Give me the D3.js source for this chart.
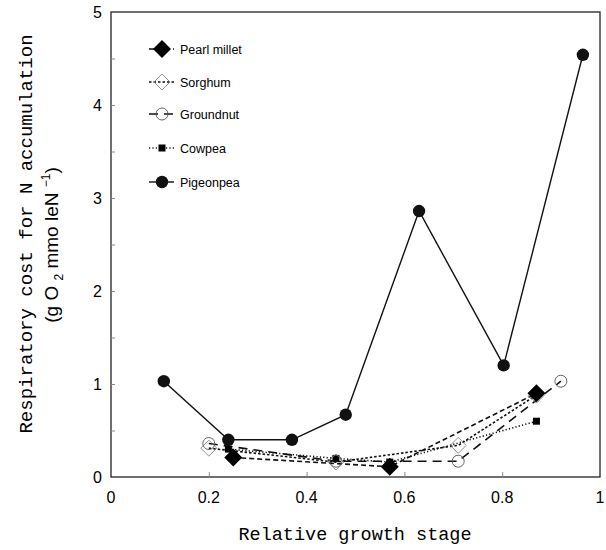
<!DOCTYPE html>
<html>
<head>
<meta charset="utf-8">
<script src="https://cdn.jsdelivr.net/npm/d3@7"></script>
<style>
  body { margin: 0; background: #fff; }
  svg { display: block; }
</style>
</head>
<body>
<svg width="606" height="550"></svg>
<script>
// data
const pearlMilletX = [0.25, 0.57, 0.87];
const pearlMilletY = [0.21, 0.11, 0.90];
const sorghumX = [0.20, 0.46, 0.71, 0.87];
const sorghumY = [0.31, 0.16, 0.34, 0.88];
const groundnutX = [0.20, 0.46, 0.71, 0.92];
const groundnutY = [0.36, 0.17, 0.17, 1.03];
const cowpeaX = [0.24, 0.46, 0.57, 0.87];
const cowpeaY = [0.30, 0.20, 0.16, 0.60];
const pigeonpeaX = [0.108, 0.24, 0.37, 0.48, 0.63, 0.803, 0.965];
const pigeonpeaY = [1.03, 0.40, 0.40, 0.67, 2.86, 1.20, 4.54];

const xTicks = [0, 0.2, 0.4, 0.6, 0.8, 1];
const yTicks = [0, 1, 2, 3, 4, 5];

const series = [
    { name: "Pearl millet", xs: pearlMilletX, ys: pearlMilletY, dash: "5,3", marker: "diamondFilled" },
    { name: "Sorghum", xs: sorghumX, ys: sorghumY, dash: "2.5,2", marker: "diamondOpen" },
    { name: "Groundnut", xs: groundnutX, ys: groundnutY, dash: "9,6", marker: "circleOpen" },
    { name: "Cowpea", xs: cowpeaX, ys: cowpeaY, dash: "1.2,2.2", marker: "square" },
    { name: "Pigeonpea", xs: pigeonpeaX, ys: pigeonpeaY, dash: null, marker: "circleFilled" }
];

const svg = d3.select("svg");
const plotLeft = 111, plotRight = 600, plotTop = 12, plotBottom = 477;

const x = d3.scaleLinear().domain([0, 1]).range([plotLeft, plotRight]);
const y = d3.scaleLinear().domain([0, 5]).range([plotBottom, plotTop]);

// frame
svg.append("rect")
    .attr("x", plotLeft).attr("y", plotTop)
    .attr("width", plotRight - plotLeft).attr("height", plotBottom - plotTop)
    .attr("fill", "none").attr("stroke", "#222").attr("stroke-width", 1.3);

// inside ticks
const xAxis = d3.axisTop(x).tickValues(xTicks.slice(1, -1)).tickSize(5).tickFormat("");
svg.append("g").attr("transform", `translate(0,${plotBottom})`).call(xAxis)
    .call(g => g.select(".domain").remove())
    .selectAll("line").attr("stroke", "#888");

const yAxis = d3.axisRight(y).tickValues(d3.range(0.5, 5, 0.5)).tickSize(4).tickFormat("");
svg.append("g").attr("transform", `translate(${plotLeft},0)`).call(yAxis)
    .call(g => g.select(".domain").remove())
    .selectAll("line").attr("stroke", "#888");

// tick labels
svg.append("g").selectAll("text").data(xTicks).join("text")
    .attr("x", d => x(d)).attr("y", 503)
    .attr("text-anchor", "middle")
    .style("font-family", "Liberation Sans, Arial, sans-serif")
    .style("font-size", "16px")
    .text(d => d3.format("")(d));

svg.append("g").selectAll("text").data(yTicks).join("text")
    .attr("x", 102).attr("y", d => y(d) + 6)
    .attr("text-anchor", "end")
    .style("font-family", "Liberation Sans, Arial, sans-serif")
    .style("font-size", "16px")
    .text(d => d);

// axis titles
svg.append("text")
    .attr("x", 355).attr("y", 540)
    .attr("text-anchor", "middle")
    .style("font-family", "Liberation Mono, DejaVu Sans Mono, monospace")
    .style("font-size", "18.5px")
    .text("Relative growth stage");

const yTitle = svg.append("g").attr("transform", "translate(0,234) rotate(-90)");
yTitle.append("text")
    .attr("x", 0).attr("y", 32)
    .attr("text-anchor", "middle")
    .style("font-family", "Liberation Mono, DejaVu Sans Mono, monospace")
    .style("font-size", "19px")
    .text("Respiratory cost for N accumulation");
const sub = yTitle.append("text")
    .attr("x", -11).attr("y", 58)
    .attr("text-anchor", "middle")
    .style("font-family", "Liberation Sans, Arial, sans-serif")
    .style("font-size", "19px");
sub.append("tspan").text("(g O ");
sub.append("tspan").attr("dy", 5).style("font-size", "12px").text("2");
sub.append("tspan").attr("dy", -5).text(" mmo leN ");
sub.append("tspan").attr("dy", -8).style("font-size", "12px").text("−1");
sub.append("tspan").attr("dy", 8).text(")");

function drawMarker(g, type, cx, cy) {
    if (type === "diamondFilled") {
        g.append("path").attr("d", `M${cx},${cy - 9}L${cx + 9},${cy}L${cx},${cy + 9}L${cx - 9},${cy}Z`)
            .attr("fill", "#000");
    } else if (type === "diamondOpen") {
        g.append("path").attr("d", `M${cx},${cy - 8}L${cx + 8},${cy}L${cx},${cy + 8}L${cx - 8},${cy}Z`)
            .attr("fill", "none").attr("stroke", "#777").attr("stroke-width", 0.8);
    } else if (type === "circleOpen") {
        g.append("circle").attr("cx", cx).attr("cy", cy).attr("r", 6)
            .attr("fill", "none").attr("stroke", "#555").attr("stroke-width", 0.9);
    } else if (type === "square") {
        g.append("rect").attr("x", cx - 3.5).attr("y", cy - 3.5).attr("width", 7).attr("height", 7)
            .attr("fill", "#000");
    } else {
        g.append("circle").attr("cx", cx).attr("cy", cy).attr("r", 6.2).attr("fill", "#111");
    }
}

const line = d3.line().x(d => x(d[0])).y(d => y(d[1]));

series.forEach(s => {
    const pts = s.xs.map((v, i) => [v, s.ys[i]]);
    svg.append("path")
        .attr("d", line(pts))
        .attr("fill", "none")
        .attr("stroke", "#111")
        .attr("stroke-width", s.dash ? 1.6 : 1.4)
        .attr("stroke-dasharray", s.dash);
});
series.slice().reverse().forEach(s => {
    const g = svg.append("g");
    s.xs.forEach((v, i) => drawMarker(g, s.marker, x(v), y(s.ys[i])));
});

// legend
const legendY = [49, 82, 114, 148, 182];
series.forEach((s, i) => {
    const g = svg.append("g");
    g.append("line")
        .attr("x1", 149).attr("x2", 174)
        .attr("y1", legendY[i]).attr("y2", legendY[i])
        .attr("stroke", "#111").attr("stroke-width", 1.4)
        .attr("stroke-dasharray", s.dash);
    drawMarker(g, s.marker, 162, legendY[i]);
    g.append("text")
        .attr("x", 180).attr("y", legendY[i] + 4.5)
        .style("font-family", "Liberation Sans, Arial, sans-serif")
        .style("font-size", "12.5px")
        .text(s.name);
});
</script>
</body>
</html>
